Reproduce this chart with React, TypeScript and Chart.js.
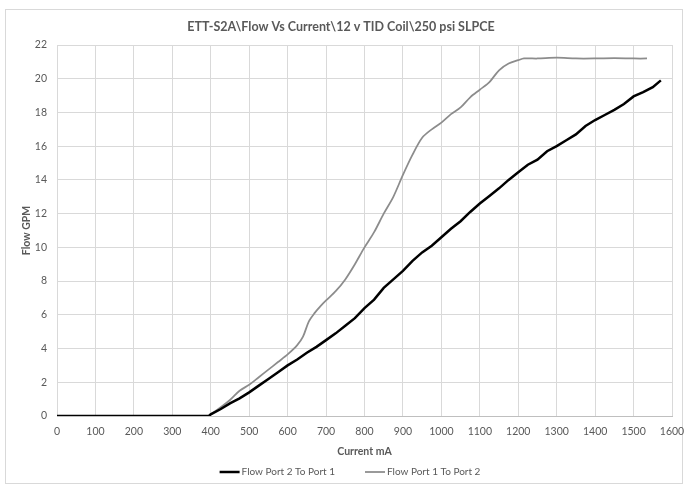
import React, { useEffect, useRef } from "react";
import { Chart, registerables } from "chart.js";

Chart.register(...registerables);

const titleText = "ETT-S2A\\Flow Vs Current\\12 v TID Coil\\250 psi SLPCE";
const xTitle = "Current mA";
const yTitle = "Flow GPM";
const seriesNames = ["Flow Port 2 To Port 1", "Flow Port 1 To Port 2"];

const currentA = [0, 100, 200, 300, 395, 400, 425, 450, 475, 500, 525, 550, 575, 600, 625, 650, 675, 700, 725, 750, 775, 800, 825, 850, 875, 900, 925, 950, 975, 1000, 1025, 1050, 1075, 1100, 1125, 1150, 1175, 1200, 1225, 1250, 1275, 1300, 1325, 1350, 1375, 1400, 1425, 1450, 1475, 1500, 1525, 1550, 1571];
const flowA = [0, 0, 0, 0, 0, 0.1, 0.4, 0.75, 1.05, 1.4, 1.8, 2.2, 2.6, 3.0, 3.35, 3.75, 4.1, 4.5, 4.9, 5.35, 5.8, 6.4, 6.9, 7.6, 8.1, 8.6, 9.2, 9.7, 10.1, 10.6, 11.1, 11.55, 12.1, 12.6, 13.05, 13.5, 14.0, 14.45, 14.9, 15.2, 15.7, 16.0, 16.35, 16.7, 17.2, 17.55, 17.85, 18.15, 18.5, 18.95, 19.2, 19.5, 19.9];

const currentB = [0, 100, 200, 300, 395, 400, 425, 450, 475, 500, 525, 550, 575, 600, 625, 640, 655, 670, 685, 700, 725, 750, 775, 800, 825, 850, 875, 900, 925, 950, 975, 1000, 1025, 1050, 1075, 1100, 1125, 1150, 1175, 1200, 1215, 1250, 1300, 1350, 1400, 1450, 1500, 1535];
const flowB = [0, 0, 0, 0, 0, 0.1, 0.5, 0.95, 1.5, 1.85, 2.3, 2.75, 3.2, 3.65, 4.2, 4.7, 5.6, 6.1, 6.5, 6.85, 7.4, 8.1, 9.0, 10.0, 10.9, 12.0, 13.0, 14.3, 15.5, 16.5, 17.0, 17.4, 17.9, 18.3, 18.9, 19.35, 19.8, 20.5, 20.9, 21.1, 21.2, 21.2, 21.25, 21.2, 21.2, 21.22, 21.2, 21.2];

const FONT = "Lato, 'Liberation Sans', sans-serif";
const TEXT = "#595959";

const frame = {
  id: "frame",
  beforeDraw(chart: any) {
    const c = chart.ctx;
    c.save();
    c.fillStyle = "#ffffff";
    c.fillRect(0, 0, chart.width, chart.height);
    c.strokeStyle = "#d9d9d9";
    c.lineWidth = 1;
    c.strokeRect(5.5, 9.5, chart.width - 7, chart.height - 11);
    c.restore();
  },
};

const bottomLegend = {
  id: "bottomLegend",
  afterDraw(chart: any) {
    const c = chart.ctx;
    const ds = chart.data.datasets;
    c.save();
    c.font = `10px ${FONT}`;
    c.textBaseline = "middle";
    c.textAlign = "left";
    const lineLen = 20;
    const gap = 2;
    const between = 30;
    const widths = ds.map((d: any) => lineLen + gap + c.measureText(d.label).width);
    const total = widths.reduce((a: number, b: number) => a + b, 0) + between * (ds.length - 1);
    let x = chart.width / 2 + 8 - total / 2;
    const y = chart.height - 13;
    ds.forEach((d: any, i: number) => {
      c.strokeStyle = d.borderColor;
      c.lineWidth = d.borderWidth;
      c.beginPath();
      c.moveTo(x, y);
      c.lineTo(x + lineLen, y);
      c.stroke();
      c.fillStyle = TEXT;
      c.fillText(d.label, x + lineLen + gap, y);
      x += widths[i] + between;
    });
    c.restore();
  },
};

export default function App() {
  const ref = useRef<HTMLCanvasElement>(null);
  useEffect(() => {
    const chart = new Chart(ref.current!, {
      type: "line",
      data: {
        datasets: [
          {
            label: seriesNames[0],
            data: currentA.map((x, i) => ({ x, y: flowA[i] })),
            borderColor: "#000000",
            backgroundColor: "#000000",
            borderWidth: 2.5,
            pointRadius: 0,
            tension: 0,
          },
          {
            label: seriesNames[1],
            data: currentB.map((x, i) => ({ x, y: flowB[i] })),
            borderColor: "#8c8c8c",
            backgroundColor: "#8c8c8c",
            borderWidth: 1.75,
            pointRadius: 0,
            tension: 0.3,
          },
        ],
      },
      options: {
        animation: false,
        responsive: false,
        layout: { padding: { left: 10, right: 12, top: 0, bottom: 24 } },
        plugins: {
          title: {
            display: true,
            text: titleText,
            color: TEXT,
            font: { family: FONT, size: 12.5, weight: "bold" },
            padding: { top: 19, bottom: 11 },
          },
          legend: { display: false },
          tooltip: { enabled: false },
        },
        scales: {
          x: {
            type: "linear",
            min: 0,
            max: 1600,
            ticks: {
              stepSize: 100,
              color: TEXT,
              font: { family: FONT, size: 10.5 },
              padding: 9,
              maxRotation: 0,
              callback: (v: any) => String(v),
            },
            grid: { color: "#d9d9d9", drawTicks: false },
            border: { color: "#bfbfbf" },
            title: { display: true, text: xTitle, color: TEXT, font: { family: FONT, size: 10.5, weight: "bold" }, padding: { top: 5, bottom: 3 } },
            afterFit(scale: any) { scale.height = 45; scale.paddingRight = 0; },
          },
          y: {
            min: 0,
            max: 22,
            ticks: { stepSize: 2, color: TEXT, font: { family: FONT, size: 10.5 }, padding: 10, callback: (v: any) => String(v) },
            grid: { color: "#d9d9d9", drawTicks: false },
            border: { display: false },
            title: { display: true, text: yTitle, color: TEXT, font: { family: FONT, size: 10.5, weight: "bold" }, padding: { top: 10, bottom: 4 } },
            afterFit(scale: any) { scale.width = 47; },
          },
        },
      },
      plugins: [frame, bottomLegend],
    } as any);
    return () => chart.destroy();
  }, []);
  return (
    <div style={{ position: "fixed", left: 0, top: 0, width: 684, height: 485 }}>
      <canvas ref={ref} width={684} height={485} style={{ width: 684, height: 485 }} />
    </div>
  );
}
